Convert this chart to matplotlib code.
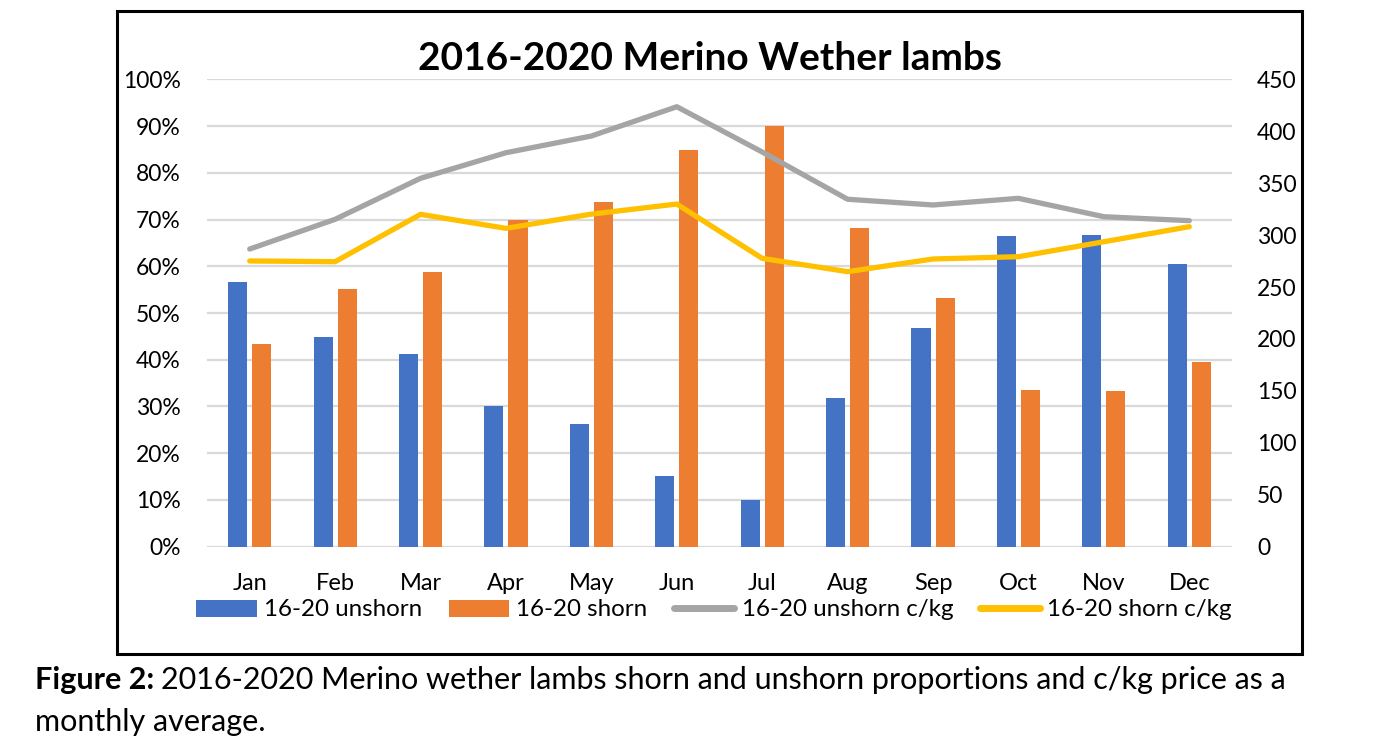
import matplotlib
matplotlib.use("Agg")
import matplotlib.pyplot as plt
import numpy as np
from matplotlib.patches import Rectangle, Patch
from matplotlib.lines import Line2D

plt.rcParams['font.family'] = ['Lato', 'DejaVu Sans']

months = ['Jan', 'Feb', 'Mar', 'Apr', 'May', 'Jun', 'Jul', 'Aug', 'Sep', 'Oct', 'Nov', 'Dec']
unshorn_pct = [56.6, 44.8, 41.2, 30.1, 26.2, 15.1, 10.0, 31.8, 46.7, 66.5, 66.7, 60.5]
shorn_pct = [43.4, 55.2, 58.8, 69.9, 73.8, 84.9, 90.0, 68.2, 53.3, 33.5, 33.3, 39.5]
unshorn_ckg = [286.6, 315.2, 354.7, 379.3, 395.4, 423.6, 380.0, 334.5, 329.0, 335.4, 317.7, 313.9]
shorn_ckg = [275.1, 274.4, 320.0, 306.5, 320.2, 329.9, 277.6, 264.8, 277.0, 279.2, 293.6, 308.1]
left_ticks = list(range(0, 101, 10))
right_ticks = list(range(0, 451, 50))

labels = ['16-20 unshorn', '16-20 shorn', '16-20 unshorn c/kg', '16-20 shorn c/kg']
c_blue, c_orange, c_gray, c_yellow = '#4472C4', '#ED7D31', '#A5A5A5', '#FFC000'

W, H = 1384, 742
fig = plt.figure(figsize=(W / 100, H / 100), dpi=100)

# outer chart border
fig.patches.append(Rectangle((117 / W, 1 - 654 / H), (1302 - 117) / W, (654 - 11) / H,
                             transform=fig.transFigure, fill=False, edgecolor='black',
                             linewidth=2.2))

ax = fig.add_axes([207 / W, 1 - 546.7 / H, (1232 - 207) / W, (546.7 - 79.3) / H])
x = np.arange(len(months))
bw = 0.223
off = 0.141
ax.bar(x - off, unshorn_pct, width=bw, color=c_blue, zorder=2)
ax.bar(x + off, shorn_pct, width=bw, color=c_orange, zorder=2)
ax.set_xlim(-0.5, len(months) - 0.5)
ax.set_ylim(0, 100)
ax.set_yticks(left_ticks)
ax.set_yticklabels([f'{t}%' for t in left_ticks])
ax.set_xticks(x)
ax.set_xticklabels(months)
ax.grid(axis='y', color='#D9D9D9', linewidth=1.6, zorder=0)
ax.set_axisbelow(True)
for s in ax.spines.values():
    s.set_visible(False)
ax.tick_params(axis='y', length=0, pad=19, labelsize=16.5)
ax.tick_params(axis='x', length=0, pad=19, labelsize=17)

ax2 = ax.twinx()
ax2.plot(x, unshorn_ckg, color=c_gray, linewidth=3.8, solid_capstyle='round',
         solid_joinstyle='round', zorder=3)
ax2.plot(x, shorn_ckg, color=c_yellow, linewidth=3.8, solid_capstyle='round',
         solid_joinstyle='round', zorder=3)
ax2.set_ylim(0, 450)
ax2.set_yticks(right_ticks)
ax2.tick_params(axis='y', length=0, pad=18, labelsize=16.5)
for s in ax2.spines.values():
    s.set_visible(False)

fig.text(710 / W, 1 - 59 / H, '2016-2020 Merino Wether lambs', ha='center', va='center',
         fontsize=28, fontweight='bold')

handles = [Patch(facecolor=c_blue), Patch(facecolor=c_orange),
           Line2D([], [], color=c_gray, linewidth=5, solid_capstyle='round'),
           Line2D([], [], color=c_yellow, linewidth=5, solid_capstyle='round')]
fig.legend(handles, labels, ncol=4, loc='center', bbox_to_anchor=(714 / W, 1 - 610 / H),
           frameon=False, fontsize=17.4, handlelength=2.5, handletextpad=0.3,
           columnspacing=1.1, borderpad=0, borderaxespad=0)

t1 = fig.text(35 / W, 1 - 680 / H, 'Figure 2:', ha='left', va='center', fontsize=22,
              fontweight='bold')
fig.canvas.draw()
bb = t1.get_window_extent()
fig.text((bb.x1 + 7) / W, 1 - 680 / H,
         '2016-2020 Merino wether lambs shorn and unshorn proportions and c/kg price as a',
         ha='left', va='center', fontsize=22)
fig.text(35 / W, 1 - 722 / H, 'monthly average.', ha='left', va='center', fontsize=22)

fig.savefig('out.png', dpi=100)
